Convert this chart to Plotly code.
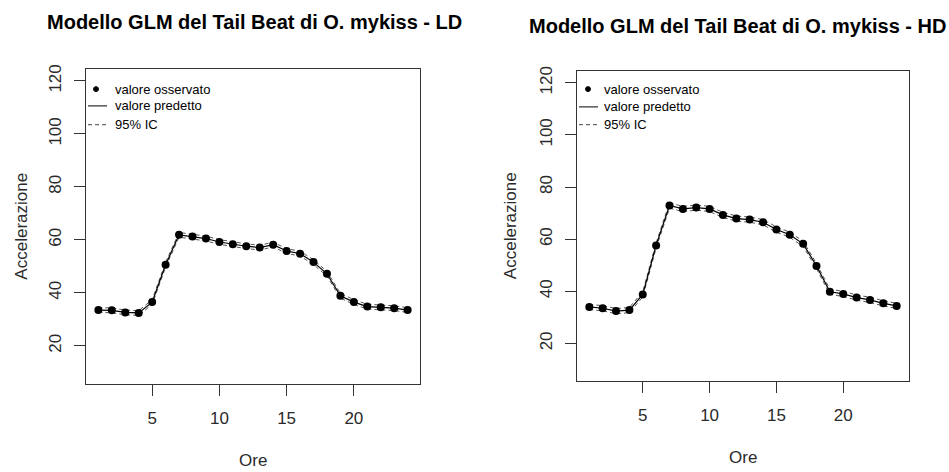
import plotly.graph_objects as go

# Hours of the day
ore = list(range(1, 25))

# LD group: observed tail-beat acceleration, GLM prediction and 95% CI
oss_ld = [33.5, 33.4, 32.6, 32.4, 36.5, 50.6, 61.9, 61.3, 60.5, 59.2, 58.3, 57.6,
          57.1, 58.2, 55.8, 54.8, 51.6, 47.2, 38.9, 36.5, 34.8, 34.6, 34.2, 33.5]
pred_ld = [33.5, 33.4, 32.6, 32.4, 36.5, 50.6, 61.9, 61.3, 60.5, 59.2, 58.3, 57.6,
           57.1, 58.2, 55.8, 54.8, 51.6, 47.2, 38.9, 36.5, 34.8, 34.6, 34.2, 33.5]
ic_inf_ld = [32.6, 32.5, 31.7, 31.5, 35.6, 49.7, 61.0, 60.4, 59.6, 58.3, 57.4, 56.7,
             56.2, 57.3, 54.9, 53.9, 50.7, 46.3, 38.0, 35.6, 33.9, 33.7, 33.3, 32.6]
ic_sup_ld = [34.4, 34.3, 33.5, 33.3, 37.4, 51.5, 62.8, 62.2, 61.4, 60.1, 59.2, 58.5,
             58.0, 59.1, 56.7, 55.7, 52.5, 48.1, 39.8, 37.4, 35.7, 35.5, 35.1, 34.4]

# HD group
oss_hd = [34.0, 33.5, 32.4, 32.8, 38.8, 57.6, 72.9, 71.6, 72.1, 71.6, 69.3, 67.9,
          67.5, 66.5, 63.7, 61.7, 58.2, 49.7, 39.8, 39.0, 37.6, 36.7, 35.4, 34.4]
pred_hd = [34.0, 33.5, 32.4, 32.8, 38.8, 57.6, 72.9, 71.6, 72.1, 71.6, 69.3, 67.9,
           67.5, 66.5, 63.7, 61.7, 58.2, 49.7, 39.8, 39.0, 37.6, 36.7, 35.4, 34.4]
ic_inf_hd = [33.0, 32.5, 31.4, 31.8, 37.8, 56.6, 71.9, 70.6, 71.1, 70.6, 68.3, 66.9,
             66.5, 65.5, 62.7, 60.7, 57.2, 48.7, 38.8, 38.0, 36.6, 35.7, 34.4, 33.4]
ic_sup_hd = [35.0, 34.5, 33.4, 33.8, 39.8, 58.6, 73.9, 72.6, 73.1, 72.6, 70.3, 68.9,
             68.5, 67.5, 64.7, 62.7, 59.2, 50.7, 40.8, 40.0, 38.6, 37.7, 36.4, 35.4]

x_ticks = [5, 10, 15, 20]
y_ticks = [20, 40, 60, 80, 100, 120]

titoli = ["Modello GLM del Tail Beat di O. mykiss - LD",
          "Modello GLM del Tail Beat di O. mykiss - HD"]
etichette_legenda = ["valore osservato", "valore predetto", "95% IC"]

W, H = 949, 472
FONT = "Liberation Sans, Arial, sans-serif"
TXT = "#2a2a2a"


def px(x):
    return x / W


def py(y):
    return 1 - y / H


fig = go.Figure()

pannelli = [
    ("x", "y", oss_ld, pred_ld, ic_inf_ld, ic_sup_ld),
    ("x2", "y2", oss_hd, pred_hd, ic_inf_hd, ic_sup_hd),
]
for xa, ya, oss, pred, lo, hi in pannelli:
    for ic in (lo, hi):
        fig.add_trace(go.Scatter(x=ore, y=ic, mode="lines", xaxis=xa, yaxis=ya,
                                 line=dict(color="#555555", width=1, dash="4px,3px"),
                                 showlegend=False, hoverinfo="skip"))
    fig.add_trace(go.Scatter(x=ore, y=pred, mode="lines", xaxis=xa, yaxis=ya,
                             line=dict(color="black", width=1.2),
                             showlegend=False))
    fig.add_trace(go.Scatter(x=ore, y=oss, mode="markers", xaxis=xa, yaxis=ya,
                             marker=dict(color="black", size=8, symbol="circle"),
                             showlegend=False))

# Plot regions (pixels): left, right, top, bottom
regioni = [(86, 420, 65, 383), (577, 909, 67, 380)]

axis_common = dict(showline=True, linecolor="#333333", linewidth=1, mirror=True,
                   ticks="outside", ticklen=11, tickwidth=1, tickcolor="#333333",
                   showgrid=False, zeroline=False,
                   tickfont=dict(family=FONT, size=17, color=TXT))

layout = dict(width=W, height=H, margin=dict(l=0, r=0, t=0, b=0),
              paper_bgcolor="white", plot_bgcolor="white", showlegend=False,
              font=dict(family=FONT, color="black"))
for i, (l, r, t, b) in enumerate(regioni):
    sfx = "" if i == 0 else "2"
    layout["xaxis" + sfx] = dict(domain=[px(l), px(r)], range=[0.08, 24.92],
                                 tickvals=x_ticks, ticklabelstandoff=8,
                                 anchor="y" + sfx, **axis_common)
    layout["yaxis" + sfx] = dict(domain=[py(b), py(t)], range=[5.6, 124.4],
                                 tickvals=y_ticks, tickangle=-90,
                                 ticklabelstandoff=6,
                                 anchor="x" + sfx, **axis_common)
fig.update_layout(**layout)

annotations = []
shapes = []
title_pos = [(254, 17), (737, 21)]
ore_y = [460, 457]
legend_x = [(88, 107, 96, 113), (579, 598, 588, 602)]
legend_y = [(85, 102, 121), (85, 103, 121)]
for i, (l, r, t, b) in enumerate(regioni):
    cx = (l + r) / 2
    tx, ty = title_pos[i]
    annotations.append(dict(x=px(tx), y=py(ty), xref="paper", yref="paper",
                            text="<b>" + titoli[i] + "</b>", showarrow=False,
                            xanchor="center", yanchor="middle",
                            font=dict(family=FONT, size=20, color="black")))
    annotations.append(dict(x=px(cx), y=py(ore_y[i]), xref="paper", yref="paper",
                            text="Ore", showarrow=False, xanchor="center",
                            yanchor="middle",
                            font=dict(family=FONT, size=17, color=TXT)))
    annotations.append(dict(x=px(l - 64 if i == 0 else l - 67), y=py((t + b) / 2),
                            xref="paper", yref="paper", text="Accelerazione",
                            showarrow=False, textangle=-90, xanchor="center",
                            yanchor="middle",
                            font=dict(family=FONT, size=17, color=TXT)))
    # legend keys
    x0, x1, xd, xt = legend_x[i]
    y_pt, y_line, y_dash = legend_y[i]
    shapes.append(dict(type="circle", xref="paper", yref="paper",
                       x0=px(xd - 2.5), x1=px(xd + 2.5),
                       y0=py(y_pt + 2.5), y1=py(y_pt - 2.5),
                       fillcolor="black", line=dict(color="black", width=1)))
    shapes.append(dict(type="line", xref="paper", yref="paper",
                       x0=px(x0), x1=px(x1), y0=py(y_line), y1=py(y_line),
                       line=dict(color="black", width=1)))
    shapes.append(dict(type="line", xref="paper", yref="paper",
                       x0=px(x0), x1=px(x1), y0=py(y_dash), y1=py(y_dash),
                       line=dict(color="#444444", width=1, dash="4px,3px")))
    for lab, yy in zip(etichette_legenda, (y_pt, y_line, y_dash)):
        annotations.append(dict(x=px(xt), y=py(yy), xref="paper", yref="paper",
                                text=lab, showarrow=False, xanchor="left",
                                yanchor="middle",
                                font=dict(family=FONT, size=13, color="black")))

fig.update_layout(annotations=annotations, shapes=shapes)
fig.write_html("out.html")
